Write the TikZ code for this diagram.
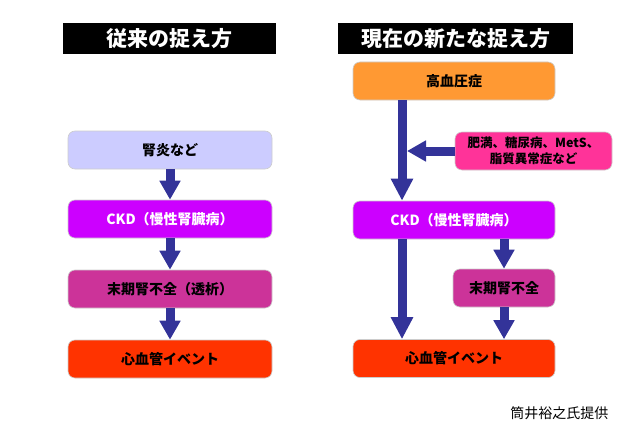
\documentclass[tikz,border=0pt]{standalone}
\usepackage{fontspec}
\setmainfont{Noto Sans CJK JP}
\usetikzlibrary{positioning,arrows.meta}

\definecolor{arrowblue}{HTML}{333399}
\definecolor{lavender}{HTML}{CCCCFF}
\definecolor{ckdpurple}{HTML}{CC00FF}
\definecolor{esrdpink}{HTML}{CC3399}
\definecolor{cvdred}{HTML}{FF3300}
\definecolor{hbporange}{HTML}{FF9933}
\definecolor{riskpink}{HTML}{FF3399}

\tikzset{
  titlebox/.style={fill=black,text=white,inner sep=0pt,minimum height=31pt,font=\fontsize{21}{23}\selectfont\bfseries},
  flowbox/.style={rounded corners=7pt,draw=black!20,line width=0.6pt,inner sep=0pt,minimum height=38pt,font=\fontsize{14}{16}\selectfont\bfseries},
  bigarrow/.style={draw=arrowblue,line width=9pt,-{Triangle[width=21pt,length=22pt]}},
  smallarrow/.style={draw=arrowblue,line width=9pt,-{Triangle[width=20pt,length=19pt]}}
}

\begin{document}
\begin{tikzpicture}[x=1pt,y=-1pt]
\useasboundingbox (0,0) rectangle (640,436);

% titles
\node[titlebox,minimum width=213pt] (oldTitle) at (169.5,38.5) {従来の捉え方};
\node[titlebox,minimum width=235pt] (newTitle) at (455.5,38.5) {現在の新たな捉え方};

% left column: conventional view
\node[flowbox,fill=lavender,minimum width=204pt] (kidneyL) at (170,150) {腎炎など};
\node[flowbox,fill=ckdpurple,text=white,minimum width=204pt] (ckdL) at (170,219) {CKD（慢性腎臓病）};
\node[flowbox,fill=esrdpink,minimum width=204pt] (esrdL) at (170,289) {末期腎不全（透析）};
\node[flowbox,fill=cvdred,minimum width=204pt] (cvdL) at (170,359) {心血管イベント};

\draw[smallarrow] (kidneyL.south) -- (ckdL.north);
\draw[smallarrow] (ckdL.south) -- (esrdL.north);
\draw[smallarrow] (esrdL.south) -- (cvdL.north);

% right column: current view
\node[flowbox,fill=hbporange,minimum width=202pt] (hbpR) at (454,81) {高血圧症};
\node[flowbox,fill=riskpink,minimum width=157pt,align=center,font=\fontsize{12.5}{16}\selectfont\bfseries] (riskR) at (533.5,151) {肥満、糖尿病、MetS、\\脂質異常症など};
\node[flowbox,fill=ckdpurple,text=white,minimum width=202pt] (ckdR) at (454,220) {CKD（慢性腎臓病）};
\node[flowbox,fill=esrdpink,minimum width=102pt] (esrdR) at (504,288) {末期腎不全};
\node[flowbox,fill=cvdred,minimum width=202pt] (cvdR) at (454,358.5) {心血管イベント};

\coordinate (mainLine) at (402,0);
\coordinate (mainEdge) at (407,0);

\draw[bigarrow] (hbpR.south -| mainLine) -- (ckdR.north -| mainLine);
\draw[smallarrow] (riskR.west) -- (riskR.west -| mainEdge);
\draw[bigarrow] (ckdR.south -| mainLine) -- (cvdR.north -| mainLine);
\draw[smallarrow] (ckdR.south -| esrdR.north) -- (esrdR.north);
\draw[smallarrow] (esrdR.south) -- (cvdR.north -| esrdR.south);

% credit
\node[anchor=east,font=\fontsize{14}{16}\selectfont] (credit) at (612,413) {筒井裕之氏提供};
\end{tikzpicture}
\end{document}
